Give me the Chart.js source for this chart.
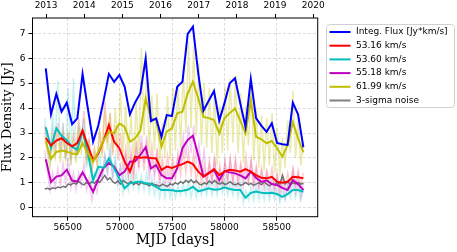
<!DOCTYPE html>
<html>
<head>
<meta charset="utf-8">
<script src="https://cdn.jsdelivr.net/npm/chart.js@4"></script>
<style>html,body{margin:0;padding:0;background:#fff}</style>
</head>
<body>
<canvas id="canvas" width="457" height="252"></canvas>
<script>
// smoothed light curves (MJD)
const dates = [
  56290, 56340, 56391, 56441, 56491, 56542, 56592, 56642, 56692, 56743,
  56793, 56843, 56894, 56944, 56994, 57045, 57095, 57145, 57195, 57246,
  57296, 57346, 57397, 57447, 57497, 57548, 57598, 57648, 57698, 57749,
  57799, 57849, 57900, 57950, 58000, 58050, 58101, 58151, 58201, 58252,
  58302, 58352, 58403, 58453, 58503, 58554, 58604, 58654, 58704, 58755
]
const integFlux = [
  5.6, 3.75, 4.57, 3.86, 4.22, 3.36, 3.59, 5.37, 4.0, 2.65,
  3.3, 4.3, 5.37, 5.06, 5.33, 4.86, 3.75, 4.23, 4.6, 6.0,
  3.48, 3.59, 2.85, 3.72, 3.68, 4.86, 5.06, 6.98, 7.27, 5.4,
  3.9, 4.3, 4.69, 3.5, 4.2, 5.0, 5.2, 4.2, 3.25, 5.17,
  3.6, 3.3, 3.05, 3.39, 2.6, 2.55, 2.52, 4.22, 3.75, 2.43
]
const v5316 = [
  2.8, 2.5, 2.7, 2.79, 2.6, 2.47, 2.6, 3.1, 2.5, 1.9,
  2.18, 2.7, 3.32, 2.65, 2.39, 1.85, 1.45, 2.05, 2.01, 2.03,
  2.0, 1.98, 1.51, 1.65, 1.6, 1.68, 1.75, 1.85, 1.75, 1.45,
  1.25, 1.38, 1.55, 1.31, 1.45, 1.52, 1.5, 1.45, 1.55, 1.45,
  1.31, 1.2, 1.18, 1.24, 1.04, 1.0, 1.04, 1.24, 1.22, 1.18
]
const v5360 = [
  3.23, 2.4, 3.19, 2.9, 2.7, 2.45, 2.32, 3.1, 2.2, 1.1,
  1.65, 1.6, 1.98, 1.58, 1.18, 0.78, 0.98, 1.02, 1.05, 0.98,
  0.95, 0.84, 0.71, 0.71, 0.7, 0.66, 0.68, 0.72, 0.84, 0.66,
  0.71, 0.78, 0.72, 0.74, 0.82, 0.75, 0.71, 0.71, 0.4, 0.6,
  0.65, 0.6, 0.58, 0.6, 0.55, 0.44, 0.55, 0.71, 0.71, 0.64
]
const v5518 = [
  1.95, 1.03, 1.25, 1.3, 1.53, 1.09, 1.05, 1.42, 1.04, 0.64,
  1.15, 1.6, 1.8, 1.65, 1.3, 1.45, 1.85, 1.87, 2.12, 2.43,
  1.58, 1.71, 1.31, 1.18, 1.18, 1.58, 2.39, 2.72, 2.89, 2.1,
  1.25, 1.4, 1.51, 1.11, 1.47, 1.42, 1.38, 1.3, 1.18, 1.45,
  1.2, 1.04, 1.1, 0.95, 0.91, 0.8, 0.71, 1.11, 0.95, 0.71
]
const v6199 = [
  2.68, 1.96, 2.24, 2.3, 2.25, 2.18, 2.15, 2.59, 2.2, 1.85,
  2.25, 2.7, 3.05, 3.0, 3.39, 3.25, 2.65, 2.79, 3.1, 4.39,
  3.59, 3.52, 2.45, 3.05, 3.19, 3.79, 3.86, 4.59, 5.06, 4.4,
  3.65, 3.6, 3.52, 2.99, 3.6, 3.8, 3.99, 3.5, 2.99, 4.33,
  2.85, 2.75, 2.59, 2.68, 2.39, 2.05, 2.52, 3.43, 2.79, 2.22
]

// raw (unsmoothed) epochs, drawn faint
const rawDates = [
  56280, 56305, 56330, 56355, 56380, 56405, 56430, 56455, 56480, 56505,
  56530, 56555, 56580, 56605, 56630, 56655, 56680, 56705, 56730, 56755,
  56780, 56805, 56830, 56855, 56880, 56905, 56930, 56955, 56980, 57005,
  57030, 57055, 57080, 57105, 57130, 57155, 57180, 57205, 57230, 57255,
  57280, 57305, 57330, 57355, 57380, 57405, 57430, 57455, 57480, 57505,
  57530, 57555, 57580, 57605, 57630, 57655, 57680, 57705, 57730, 57755,
  57780, 57805, 57830, 57855, 57880, 57905, 57930, 57955, 57980, 58005,
  58030, 58055, 58080, 58105, 58130, 58155, 58180, 58205, 58230, 58255,
  58280, 58305, 58330, 58355, 58380, 58405, 58430, 58455, 58480, 58505,
  58530, 58555, 58580, 58605, 58630, 58655, 58680, 58705, 58730, 58755
]
const raw5316 = [
  3.3, 2.3, 2.0, 3.1, 2.2, 3.4, 2.3, 3.2, 2.0, 3.0,
  1.9, 3.0, 2.1, 3.6, 2.6, 3.9, 1.9, 2.8, 1.4, 2.4,
  1.8, 3.0, 2.2, 4.3, 2.6, 3.8, 2.1, 3.3, 1.9, 3.0,
  1.5, 2.4, 1.2, 2.0, 1.1, 2.7, 1.6, 2.6, 1.5, 2.5,
  1.6, 2.5, 1.5, 2.4, 1.1, 2.0, 1.2, 2.1, 1.2, 2.0,
  1.3, 2.2, 1.3, 2.3, 1.4, 2.3, 1.3, 2.2, 1.0, 1.8,
  0.9, 1.7, 1.0, 1.9, 1.1, 2.0, 1.0, 1.7, 1.0, 1.9,
  1.1, 2.0, 1.1, 2.0, 1.1, 1.8, 1.2, 2.1, 1.1, 1.9,
  1.0, 1.7, 0.9, 1.6, 0.9, 1.5, 1.0, 1.6, 0.8, 1.4,
  0.7, 1.3, 0.8, 1.4, 0.9, 1.6, 0.9, 1.5, 0.9, 1.4
]
const raw5360 = [
  3.6, 2.5, 1.8, 3.8, 2.4, 5.1, 2.2, 3.4, 1.9, 4.8,
  1.7, 5.2, 1.9, 3.3, 2.8, 3.6, 1.6, 2.4, 0.9, 1.4,
  1.2, 2.2, 1.3, 2.1, 1.5, 2.6, 1.2, 2.1, 0.9, 1.6,
  0.6, 1.3, 0.7, 1.4, 0.8, 1.4, 0.7, 1.3, 0.7, 1.4,
  0.6, 1.2, 0.5, 1.0, 0.4, 1.0, 0.4, 1.0, 0.4, 0.9,
  0.4, 0.9, 0.5, 1.0, 0.5, 1.1, 0.4, 1.0, 0.4, 0.9,
  0.5, 1.0, 0.5, 1.1, 0.5, 1.0, 0.5, 1.1, 0.6, 1.2,
  0.5, 1.0, 0.5, 1.0, 0.4, 1.0, 0.2, 0.7, 0.3, 0.9,
  0.3, 0.9, 0.3, 0.8, 0.3, 0.9, 0.3, 0.8, 0.3, 0.7,
  0.2, 0.7, 0.3, 0.9, 0.4, 1.0, 0.4, 0.9, 0.3, 0.8
]
const raw5518 = [
  2.3, 1.5, 0.7, 1.4, 0.8, 1.6, 0.9, 1.8, 1.0, 2.0,
  0.8, 1.4, 0.7, 1.4, 0.9, 1.8, 0.7, 1.2, 0.3, 0.9,
  0.6, 1.5, 1.1, 2.1, 1.3, 2.2, 1.2, 1.8, 1.0, 1.7,
  1.1, 2.1, 1.3, 2.3, 1.4, 2.4, 1.6, 2.9, 1.8, 2.9,
  1.1, 2.0, 1.2, 2.1, 0.9, 1.6, 0.8, 1.5, 0.8, 1.6,
  1.1, 2.0, 1.7, 2.9, 2.0, 3.3, 2.2, 3.3, 1.9, 2.6,
  1.5, 2.3, 0.9, 1.7, 1.0, 2.0, 0.8, 1.5, 0.9, 1.8,
  1.0, 1.9, 0.9, 1.8, 0.8, 1.6, 0.8, 1.6, 1.0, 1.9,
  0.8, 1.5, 0.7, 1.4, 0.7, 1.4, 0.6, 1.2, 0.6, 1.2,
  0.4, 1.1, 0.4, 1.0, 0.7, 1.5, 0.6, 1.3, 0.4, 1.0
]
const raw6199 = [
  2.9, 2.2, 1.6, 2.6, 2.0, 3.0, 1.8, 2.8, 1.9, 3.1,
  1.7, 2.7, 1.8, 3.2, 2.2, 3.1, 1.7, 2.6, 1.4, 2.3,
  1.7, 3.2, 2.0, 3.9, 2.3, 3.8, 2.2, 4.0, 2.4, 4.6,
  2.2, 4.1, 1.9, 3.8, 1.8, 4.2, 2.0, 6.4, 2.9, 5.4,
  2.2, 4.5, 2.3, 4.6, 1.7, 3.4, 2.0, 4.5, 1.9, 4.8,
  2.3, 5.1, 2.4, 5.5, 3.0, 6.7, 3.2, 6.5, 2.9, 5.8,
  2.5, 5.0, 2.4, 4.8, 2.2, 4.6, 1.7, 4.1, 2.2, 4.9,
  2.3, 5.2, 2.6, 5.3, 2.2, 4.6, 1.8, 4.1, 2.5, 5.0,
  1.9, 4.0, 1.6, 3.7, 1.5, 3.6, 1.7, 3.8, 1.4, 3.2,
  1.3, 2.8, 1.6, 3.5, 2.2, 4.7, 2.0, 3.6, 1.7, 2.6
]
const noise = [
  0.75, 0.78, 0.74, 0.80, 0.77, 0.83, 0.80, 0.86, 0.82, 0.95,
  0.92, 1.00, 0.95, 1.05, 0.97, 0.92, 1.02, 0.95, 1.05, 0.98,
  1.10, 1.02, 1.15, 1.30, 1.12, 1.20, 1.05, 0.98, 1.08, 0.95,
  1.10, 1.02, 0.96, 1.06, 0.93, 1.00, 0.92, 1.02, 0.96, 0.94,
  0.88, 0.98, 0.93, 0.90, 0.86, 0.95, 0.90, 0.86, 0.96, 0.92,
  1.00, 0.95, 1.05, 0.98, 1.10, 1.02, 1.12, 1.00, 1.08, 0.96,
  0.92, 1.00, 0.95, 1.08, 0.98, 1.10, 1.00, 0.95, 1.02, 0.93,
  0.98, 1.05, 0.95, 0.92, 0.98, 0.90, 0.95, 1.02, 0.93, 0.98,
  0.90, 0.96, 1.00, 0.92, 1.05, 0.95, 0.88, 0.96, 0.92, 1.00,
  0.95, 1.30, 0.96, 1.05, 0.92, 1.00, 0.96, 1.02, 0.95, 0.98
]

// axis ticks
const mjdTicks = [56500, 57000, 57500, 58000, 58500]
const yTicks = [0, 1, 2, 3, 4, 5, 6, 7]
// top axis: calendar years at MJD of 1 January
const yearMjd = [56293, 56658, 57023, 57388, 57754, 58119, 58484, 58849]
const yearLabels = ['2013', '2014', '2015', '2016', '2017', '2018', '2019', '2020']

const legendLabels = ['Integ. Flux [Jy*km/s]', '53.16 km/s', '53.60 km/s', '55.18 km/s', '61.99 km/s', '3-sigma noise']
const legendColors = ['#0000ff', '#ff0000', '#00bfbf', '#bf00bf', '#bfbf00', '#808080']

const pts = (xs, ys) => xs.map((x, i) => ({ x: x, y: ys[i] }))

const line = (label, xs, ys, color, width, order) => ({
  label: label,
  data: pts(xs, ys),
  borderColor: color,
  borderWidth: width,
  pointRadius: 0,
  tension: 0,
  fill: false,
  order: order,
})

const datasets = [
  line('Integ. Flux [Jy*km/s]', dates, integFlux, '#0000ff', 2, 0),
  line('61.99 km/s', dates, v6199, '#bfbf00', 2, 1),
  line('53.16 km/s', dates, v5316, '#ff0000', 2, 2),
  line('53.60 km/s', dates, v5360, '#00bfbf', 2, 3),
  line('55.18 km/s', dates, v5518, '#bf00bf', 2, 4),
  line('3-sigma noise', rawDates, noise, 'rgba(90,90,90,0.85)', 1.5, 5),
  line('raw 61.99', rawDates, raw6199, 'rgba(191,191,0,0.32)', 1.5, 6),
  line('raw 53.16', rawDates, raw5316, 'rgba(255,0,0,0.2)', 1.5, 7),
  line('raw 53.60', rawDates, raw5360, 'rgba(0,191,191,0.22)', 1.5, 8),
  line('raw 55.18', rawDates, raw5518, 'rgba(191,0,191,0.2)', 1.5, 9),
]

// black frame around the plot
const frame = {
  id: 'frame',
  afterDatasetsDraw(chart) {
    const { ctx, chartArea: a } = chart
    ctx.save()
    ctx.strokeStyle = '#000'
    ctx.lineWidth = 1
    ctx.strokeRect(a.left, a.top, a.right - a.left, a.bottom - a.top)
    ctx.restore()
  }
}

// legend box to the right of the plot
const legendBox = {
  id: 'legendBox',
  afterDraw(chart) {
    const ctx = chart.ctx
    ctx.save()
    const x0 = 326.5, y0 = 24.5, w = 128, h = 83, r = 3
    ctx.beginPath()
    ctx.moveTo(x0 + r, y0)
    ctx.arcTo(x0 + w, y0, x0 + w, y0 + h, r)
    ctx.arcTo(x0 + w, y0 + h, x0, y0 + h, r)
    ctx.arcTo(x0, y0 + h, x0, y0, r)
    ctx.arcTo(x0, y0, x0 + w, y0, r)
    ctx.closePath()
    ctx.fillStyle = 'rgba(255,255,255,0.8)'
    ctx.fill()
    ctx.strokeStyle = '#d0d0d0'
    ctx.lineWidth = 1
    ctx.stroke()
    ctx.font = '9px "DejaVu Sans"'
    ctx.textBaseline = 'middle'
    ctx.fillStyle = '#000'
    legendLabels.forEach((lab, i) => {
      const y = 32 + i * 13.7
      ctx.strokeStyle = legendColors[i]
      ctx.lineWidth = 2
      ctx.beginPath()
      ctx.moveTo(329.5, y)
      ctx.lineTo(350.5, y)
      ctx.stroke()
      ctx.fillText(lab, 356, y)
    })
    ctx.restore()
  }
}

Chart.defaults.font.family = '"DejaVu Sans"'
Chart.defaults.font.size = 9
Chart.defaults.color = '#000'

const gridStyle = {
  color: '#d4d4d4',
  lineWidth: 0.8,
  tickColor: '#000',
  tickLength: 4,
  tickWidth: 1,
  tickBorderDash: [],
}

const config = {
  type: 'line',
  data: { datasets: datasets },
  options: {
    responsive: false,
    animation: false,
    devicePixelRatio: 1,
    layout: { padding: { left: 0, right: 139.3, top: 0, bottom: 0 } },
    plugins: { legend: { display: false }, tooltip: { enabled: false } },
    scales: {
      x: {
        type: 'linear',
        position: 'bottom',
        min: 56163,
        max: 58892,
        afterFit: s => { s.height = 35.3 },
        afterBuildTicks: s => { s.ticks = mjdTicks.map(v => ({ value: v })) },
        border: { display: false, dash: [3, 2] },
        grid: gridStyle,
        ticks: {
          maxRotation: 0,
          autoSkip: false,
          padding: 2,
          callback: v => String(v),
        },
        title: {
          display: true,
          text: 'MJD [days]',
          font: { family: '"DejaVu Serif"', size: 14 },
          padding: { top: 0, bottom: 3 },
        },
      },
      xTop: {
        type: 'linear',
        position: 'top',
        min: 56163,
        max: 58892,
        afterFit: s => { s.height = 18 },
        afterBuildTicks: s => { s.ticks = yearMjd.map(v => ({ value: v })) },
        border: { display: false },
        grid: Object.assign({}, gridStyle, { drawOnChartArea: false }),
        ticks: {
          maxRotation: 0,
          autoSkip: false,
          padding: 3,
          callback: (v, i) => yearLabels[i],
        },
      },
      y: {
        min: -0.36,
        max: 7.62,
        afterFit: s => { s.width = 32.5 },
        afterBuildTicks: s => { s.ticks = yTicks.map(v => ({ value: v })) },
        border: { display: false, dash: [3, 2] },
        grid: gridStyle,
        ticks: { padding: 3, autoSkip: false },
        title: {
          display: true,
          text: 'Flux Density [Jy]',
          font: { family: '"DejaVu Serif"', size: 13 },
          padding: 0,
        },
      },
    },
  },
  plugins: [frame, legendBox],
}

const canvas = document.getElementById('canvas')
const chart = new Chart(canvas, config)
</script>
